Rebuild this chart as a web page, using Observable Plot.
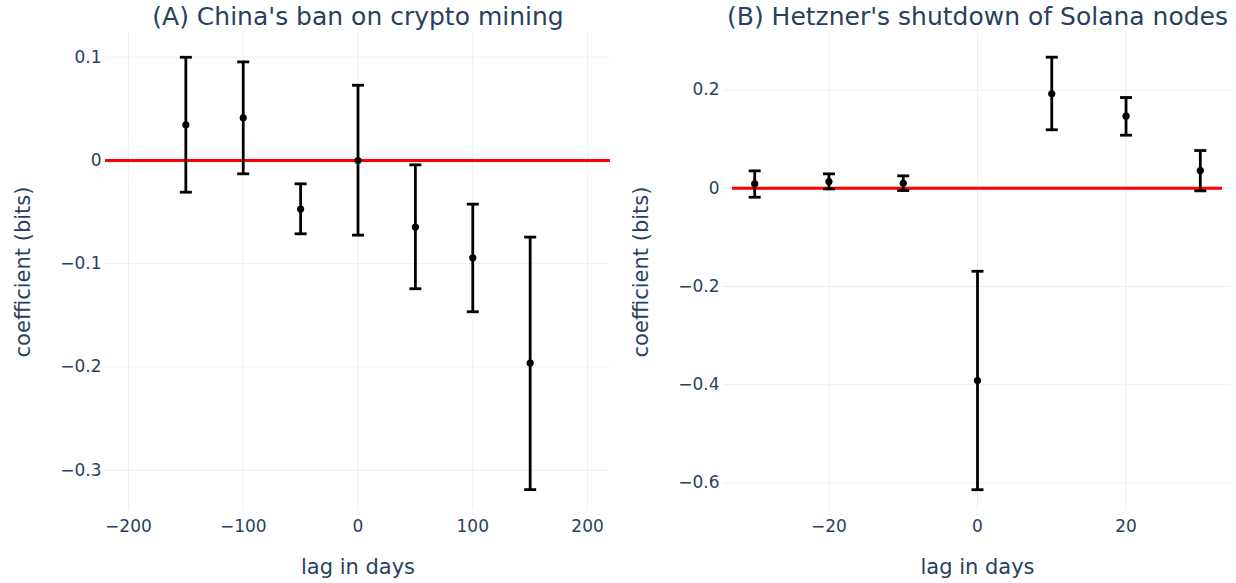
<!DOCTYPE html>
<html><head><meta charset="utf-8">
<script src="https://cdn.jsdelivr.net/npm/d3@7"></script>
<script src="https://cdn.jsdelivr.net/npm/@observablehq/plot@0.6"></script>
<style>
body{margin:0;background:#fff;}
#wrap{display:flex;width:1236px;height:583px;}
</style>
</head><body><div id="wrap"></div>
<script>
// Panel A: China's ban on crypto mining
const titleA = "(A) China's ban on crypto mining";
const lagsA  = [-150, -100, -50, 0, 50, 100, 150];
const coefA  = [0.0346, 0.0413, -0.0471, 0.0000, -0.0645, -0.0942, -0.1962];
const upperA = [0.1000, 0.0955, -0.0226, 0.0729, -0.0042, -0.0423, -0.0742];
const lowerA = [-0.0307, -0.0129, -0.0710, -0.0723, -0.1242, -0.1465, -0.3188];
const xTicksA = [-200, -100, 0, 100, 200];
const yTicksA = [-0.3, -0.2, -0.1, 0, 0.1];
const xDomainA = [-220, 220];
const yDomainA = [-0.339, 0.123];
const refLineA = [-220, 220];

// Panel B: Hetzner's shutdown of Solana nodes
const titleB = "(B) Hetzner's shutdown of Solana nodes";
const lagsB  = [-30, -20, -10, 0, 10, 20, 30];
const coefB  = [0.0090, 0.0136, 0.0102, -0.3916, 0.1922, 0.1467, 0.0360];
const upperB = [0.0354, 0.0293, 0.0252, -0.1690, 0.2668, 0.1847, 0.0768];
const lowerB = [-0.0183, -0.0014, -0.0047, -0.6137, 0.1190, 0.1080, -0.0053];
const xTicksB = [-20, 0, 20];
const yTicksB = [-0.6, -0.4, -0.2, 0, 0.2];
const xDomainB = [-34.2, 34.2];
const yDomainB = [-0.656, 0.315];
const refLineB = [-33, 33];

const xLabel = "lag in days";
const yLabel = "coefficient (bits)";

const FONT = "DejaVu Sans, Verdana, sans-serif";
const TEXT = "#2a3f5f";
const GRID = "#ebf0f8";

const fmt = d => d === 0 ? "0" : String(d).replace("-", "\u2212");
const cap = {draw(ctx) { ctx.moveTo(-6, 0); ctx.lineTo(6, 0); }};

function panel(title, lags, coef, upper, lower, xTicks, yTicks, xDomain, yDomain, refLine, mr) {
  const data = lags.map((x, i) => ({x, y: coef[i], hi: upper[i], lo: lower[i]}));
  return Plot.plot({
    width: 618, height: 583,
    marginLeft: 105, marginRight: mr, marginTop: 33, marginBottom: 73,
    style: {fontFamily: FONT, fontSize: "17px", color: TEXT, background: "#fff", overflow: "visible"},
    x: {domain: xDomain, ticks: xTicks, tickFormat: fmt, tickSize: 0, tickPadding: 9, label: null},
    y: {domain: yDomain, ticks: yTicks, tickFormat: fmt, tickSize: 0, tickPadding: 4, label: null},
    marks: [
      Plot.ruleX(xTicks, {stroke: GRID, strokeWidth: 1}),
      Plot.ruleY(yTicks, {stroke: GRID, strokeWidth: 1}),
      Plot.ruleY([0], {x1: refLine[0], x2: refLine[1], stroke: "#ff0000", strokeWidth: 3}),
      Plot.ruleX(data, {x: "x", y1: "lo", y2: "hi", stroke: "black", strokeWidth: 2.8}),
      Plot.dot(data, {x: "x", y: "hi", symbol: cap, stroke: "black", strokeWidth: 2.8, fill: "none"}),
      Plot.dot(data, {x: "x", y: "lo", symbol: cap, stroke: "black", strokeWidth: 2.8, fill: "none"}),
      Plot.dot(data, {x: "x", y: "y", r: 3.6, fill: "black"}),
      Plot.text([title], {frameAnchor: "top", dy: -17, lineAnchor: "middle", fontSize: 25, fill: TEXT}),
      Plot.text([xLabel], {frameAnchor: "bottom", dy: 57, lineAnchor: "middle", fontSize: 21, fill: TEXT}),
      Plot.text([yLabel], {frameAnchor: "left", dx: -82, rotate: -90, textAnchor: "middle", lineAnchor: "middle", fontSize: 21, fill: TEXT})
    ]
  });
}

const wrap = document.getElementById("wrap");
wrap.append(panel(titleA, lagsA, coefA, upperA, lowerA, xTicksA, yTicksA, xDomainA, yDomainA, refLineA, 8));
wrap.append(panel(titleB, lagsB, coefB, upperB, lowerB, xTicksB, yTicksB, xDomainB, yDomainB, refLineB, 5));
</script>
</body></html>
